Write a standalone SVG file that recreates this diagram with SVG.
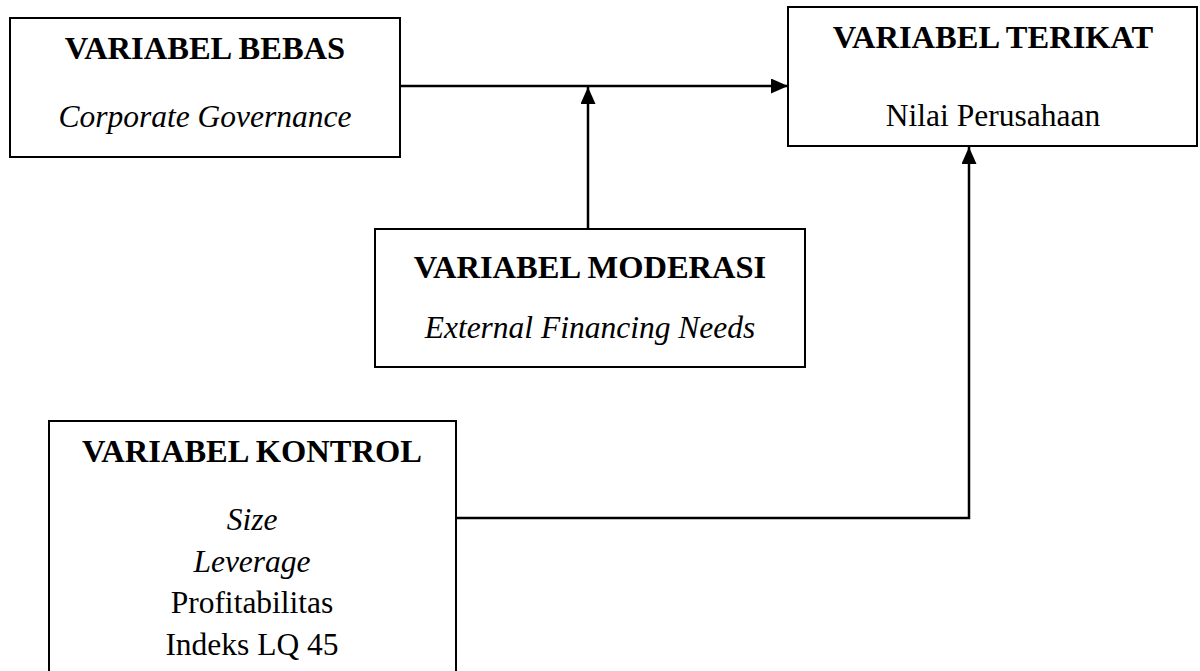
<svg xmlns="http://www.w3.org/2000/svg" width="1200" height="671" viewBox="0 0 1200 671">
<style>
.box{fill:#fff;stroke:#000;stroke-width:2}
.t{font-family:"Liberation Serif","Times New Roman",serif;font-size:31.5px;fill:#000;text-anchor:middle}
.b{font-weight:bold;font-size:32.5px}
.i{font-style:italic}
.c{fill:none;stroke:#000;stroke-width:2.5}
</style>
<defs>
<marker id="ah" markerWidth="17" markerHeight="15" refX="17" refY="7.5" orient="auto" markerUnits="userSpaceOnUse">
<path d="M0,0 L17,7.5 L0,15 Z" fill="#000"/>
</marker>
</defs>
<rect width="1200" height="671" fill="#fff"/>
<g id="connectors">
<line class="c" x1="400" y1="86" x2="788" y2="86" marker-end="url(#ah)"/>
<line class="c" x1="588" y1="229" x2="588" y2="87" marker-end="url(#ah)"/>
<polyline class="c" points="456,518 969,518 969,147" marker-end="url(#ah)"/>
</g>
<g id="bebas">
<rect class="box" x="10" y="18" width="390" height="139"/>
<text class="t b" x="205" y="59">VARIABEL BEBAS</text>
<text class="t i" x="205" y="127">Corporate Governance</text>
</g>
<g id="terikat">
<rect class="box" x="788" y="7" width="409" height="139"/>
<text class="t b" x="993" y="48">VARIABEL TERIKAT</text>
<text class="t" x="993" y="126">Nilai Perusahaan</text>
</g>
<g id="moderasi">
<rect class="box" x="375" y="229" width="430" height="138"/>
<text class="t b" x="590" y="278">VARIABEL MODERASI</text>
<text class="t i" x="590" y="338">External Financing Needs</text>
</g>
<g id="kontrol">
<rect class="box" x="49" y="421" width="407" height="260"/>
<text class="t b" x="252" y="462">VARIABEL KONTROL</text>
<text class="t i" x="252" y="530">Size</text>
<text class="t i" x="252" y="572">Leverage</text>
<text class="t" x="252" y="613">Profitabilitas</text>
<text class="t" x="252" y="655">Indeks LQ 45</text>
</g>
</svg>
